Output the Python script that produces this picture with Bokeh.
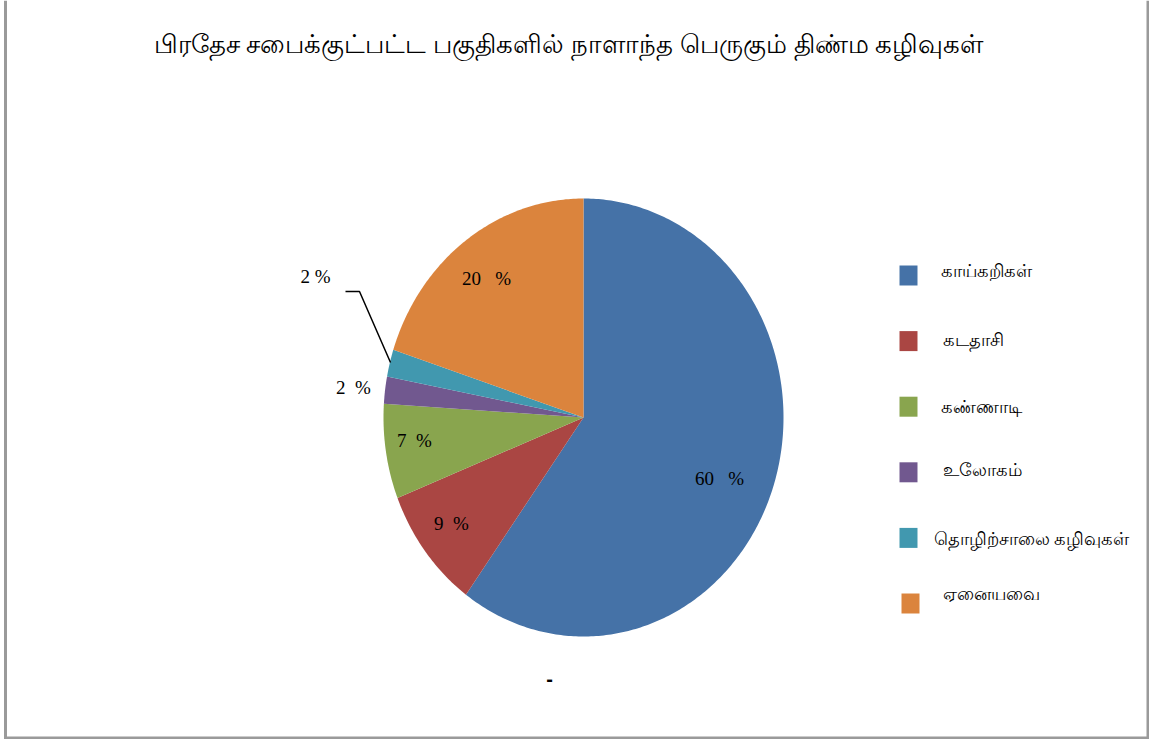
import numpy as np
from bokeh.plotting import figure
from bokeh.models import Range1d
from bokeh.core.properties import value
from bokeh.embed import file_html
from bokeh.resources import INLINE

title_text = "பிரதேச சபைக்குட்பட்ட பகுதிகளில் நாளாந்த பெருகும் திண்ம கழிவுகள்"
categories = ["காய்கறிகள்", "கடதாசி", "கண்ணாடி", "உலோகம்", "தொழிற்சாலை கழிவுகள்", "ஏனையவை"]
values = [60, 9, 7, 2, 2, 20]
label_texts = ["60   %", "9  %", "7  %", "2  %", "2 %", "20   %"]
colors = ["#4572A7", "#AA4643", "#89A54E", "#71588F", "#4198AF", "#DB843D"]

W, H = 1149, 739
p = figure(width=W, height=H, output_backend="svg", toolbar_location=None,
           x_range=Range1d(0, W), y_range=Range1d(H, 0), min_border=0)
p.axis.visible = False
p.grid.visible = False
p.outline_line_color = None
p.background_fill_color = "white"
p.border_fill_color = "white"

# frame (as in the reference)
p.line([5, 5], [0, H], line_color="#9a9a9a", line_width=3)
p.line([W - 1.5, W - 1.5], [0, H], line_color="#9a9a9a", line_width=3)
p.line([5, W], [H - 1.5, H - 1.5], line_color="#9a9a9a", line_width=3)

# pie (elliptical, as in the reference)
cx, cy, rx, ry = 583, 417, 200, 219
vals = np.array(values, dtype=float)
fracs = vals / vals.sum()
ends = np.cumsum(fracs)
starts = ends - fracs
xs, ys = [], []
for s, e in zip(starts, ends):
    a0 = np.pi / 2 - 2 * np.pi * s
    a1 = np.pi / 2 - 2 * np.pi * e
    t = np.linspace(a0, a1, max(4, int(abs(a1 - a0) * 80)))
    xs.append([cx] + list(cx + rx * np.cos(t)))
    ys.append([cy] + list(cy - ry * np.sin(t)))
p.patches(xs, ys, fill_color=colors, line_color=None)

# data labels (layout positions)
lab_x = [719, 451, 414, 353, 315, 486]
lab_y = [478, 523, 440, 387, 276, 278]
shown = [t.replace(" ", "\u00a0") for t in label_texts]
p.text(lab_x, lab_y, text=shown, text_font=value("Liberation Serif"),
       text_font_size="19px", text_color="#000000", text_align="center",
       text_baseline="middle")
# leader line for small slice
p.line([345, 359, 390], [291, 291, 362], line_color="black", line_width=1.5)

# title
p.text([568], [42], text=[title_text], text_font=value("Noto Sans"),
       text_font_size="26px", text_color="#000000", text_align="center",
       text_baseline="middle")

# legend
idx = np.arange(len(categories))
sq_x = [908, 908, 908, 908, 908, 910]
sq_y = 275 + idx * 65.6
p.rect(sq_x, sq_y, width=18, height=20, fill_color=colors, line_color=None)
txt_x = [940, 942, 940, 942, 933, 942]
txt_y = [269, 338, 405, 468, 537, 592]
p.text(txt_x, txt_y, text=categories, text_font=value("Noto Sans"),
       text_font_size="17.5px", text_color="#000000", text_align="left",
       text_baseline="middle")

# small dash
p.text([549], [678], text=["-"], text_font=value("Liberation Sans"),
       text_font_size="20px", text_font_style="bold", text_color="#000000",
       text_align="center", text_baseline="middle")

open("out.html", "w").write(file_html(p, INLINE))
